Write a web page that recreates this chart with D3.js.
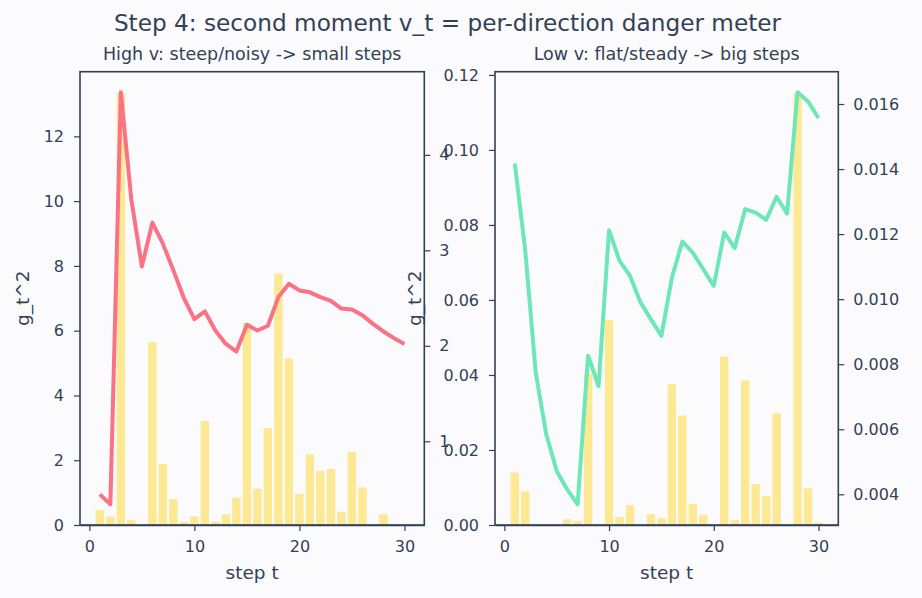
<!DOCTYPE html>
<html><head><meta charset="utf-8">
<script src="https://cdn.jsdelivr.net/npm/d3@7"></script>
<style>
html,body{margin:0;padding:0;background:#fbfbfd;}
svg{display:block;font-family:"DejaVu Sans",sans-serif;}
</style></head>
<body><svg id="c" width="922" height="598"></svg>
<script>
const steps = d3.range(1, 31);
// Left panel: high-v direction
const gHigh = [0.46,0.26,13.33,0.15,0,5.64,1.88,0.80,0.10,0.26,3.21,0.10,0.33,0.84,6.24,1.12,2.99,7.76,5.14,0.96,2.18,1.67,1.73,0.41,2.25,1.16,0,0.33,0,0];
const vHigh = [0.444,0.339,4.655,3.53,2.83,3.29,3.07,2.79,2.50,2.28,2.36,2.16,2.02,1.94,2.22,2.16,2.21,2.51,2.65,2.58,2.56,2.51,2.47,2.39,2.38,2.32,2.23,2.15,2.08,2.02];
// Right panel: low-v direction
const gLow = [0.0140,0.00895,0,0,0,0.0015,0.0011,0.0403,0,0.0546,0.0022,0.0053,0,0.0029,0.0018,0.0375,0.0292,0.0056,0.0027,0,0.0449,0.0013,0.0385,0.0109,0.0077,0.0298,0,0.1151,0.0098,0.0006];
const vLow = [0.01417,0.01149,0.00774,0.00585,0.00472,0.00415,0.00369,0.00826,0.00733,0.01212,0.01118,0.01072,0.00990,0.00938,0.00887,0.01066,0.01177,0.01143,0.01092,0.01041,0.01205,0.01157,0.01277,0.01266,0.01244,0.01315,0.01263,0.01636,0.01608,0.01557];
const xTicks = [0,10,20,30];
const yTicksHigh = [0,2,4,6,8,10,12];
const y2TicksHigh = [1,2,3,4];
const yTicksLow = [0,0.02,0.04,0.06,0.08,0.10,0.12];
const y2TicksLow = [0.004,0.006,0.008,0.010,0.012,0.014,0.016];
const titleText = "Step 4: second moment v_t = per-direction danger meter";
const subTitles = ["High v: steep/noisy -> small steps", "Low v: flat/steady -> big steps"];

const ink = "#334155";
const barColor = "#fde68a";
const svg = d3.select("#c");
svg.append("rect").attr("width",922).attr("height",598).attr("fill","#fbfbfd");

svg.append("text").attr("x",447.5).attr("y",31).attr("text-anchor","middle")
  .attr("font-size",23.2).attr("fill",ink).text(titleText);

const topY = 71.7, bottomY = 525;
const panels = [
  {x0:80, x1:424.3, g:gHigh, v:vHigh, yt:yTicksHigh, y2t:y2TicksHigh, yf:d3.format("d"), y2f:d3.format("d"), line:"#fb7185", sub:subTitles[0], ylOff:51},
  {x0:495, x1:838.3, g:gLow, v:vLow, yt:yTicksLow, y2t:y2TicksLow, yf:d3.format(".2f"), y2f:d3.format(".3f"), line:"#6ee7b7", sub:subTitles[1], ylOff:74}
];

panels.forEach((p, pi) => {
  const x = d3.scaleLinear().domain([0.6-0.05*29.8, 30.4+0.05*29.8]).range([p.x0, p.x1]);
  const gmax = d3.max(p.g);
  const y = d3.scaleLinear().domain([0, gmax*1.05]).range([bottomY, topY]);
  const vmin = d3.min(p.v), vmax = d3.max(p.v), span = vmax - vmin;
  const y2 = d3.scaleLinear().domain([vmin-0.05*span, vmax+0.05*span]).range([bottomY, topY]);

  const g = svg.append("g");
  g.append("g").selectAll("rect").data(steps).join("rect")
    .attr("x", d => x(d-0.4)).attr("width", x(0.8)-x(0))
    .attr("y", (d,i) => y(p.g[i])).attr("height", (d,i) => y(0)-y(p.g[i]))
    .attr("fill", barColor).attr("opacity", 0.92);

  const line = d3.line().x((d,i) => x(steps[i])).y(d => y2(d));
  g.append("path").datum(p.v).attr("d", line).attr("fill","none")
    .attr("stroke", p.line).attr("stroke-width", 4).attr("stroke-linejoin","round").attr("stroke-linecap","butt");

  const styleAxis = sel => {
    sel.selectAll("path").attr("stroke", ink).attr("stroke-width", 1.6);
    sel.selectAll("line").attr("stroke", ink).attr("stroke-width", 1.2);
    sel.selectAll("text").attr("fill", ink).attr("font-size", 16).attr("font-family","DejaVu Sans");
  };
  const ax = g.append("g").attr("transform",`translate(0,${bottomY})`)
    .call(d3.axisBottom(x).tickValues(xTicks).tickSize(6).tickPadding(10).tickSizeOuter(0));
  styleAxis(ax);
  const ay = g.append("g").attr("transform",`translate(${p.x0},0)`)
    .call(d3.axisLeft(y).tickValues(p.yt).tickFormat(p.yf).tickSize(6).tickPadding(10).tickSizeOuter(0));
  styleAxis(ay);
  ay.select("path").remove();
  const ay2 = g.append("g").attr("transform",`translate(${p.x1},0)`)
    .call(d3.axisRight(y2).tickValues(p.y2t).tickFormat(p.y2f).tickSize(6).tickPadding(9).tickSizeOuter(0));
  styleAxis(ay2);
  ay2.select("path").remove();
  g.append("rect").attr("x",p.x0).attr("y",topY).attr("width",p.x1-p.x0).attr("height",bottomY-topY)
    .attr("fill","none").attr("stroke",ink).attr("stroke-width",1.6);

  const cx = (p.x0+p.x1)/2;
  svg.append("text").attr("x",cx).attr("y",60).attr("text-anchor","middle")
    .attr("font-size",17.5).attr("fill",ink).text(p.sub);
  svg.append("text").attr("x",cx).attr("y",579).attr("text-anchor","middle")
    .attr("font-size",18.5).attr("fill",ink).text("step t");
  svg.append("text").attr("transform",`translate(${p.x0 - p.ylOff},${(topY+bottomY)/2}) rotate(-90)`)
    .attr("text-anchor","middle").attr("font-size",18.5).attr("fill",ink).text("g_t^2");
});
</script>
</body></html>
